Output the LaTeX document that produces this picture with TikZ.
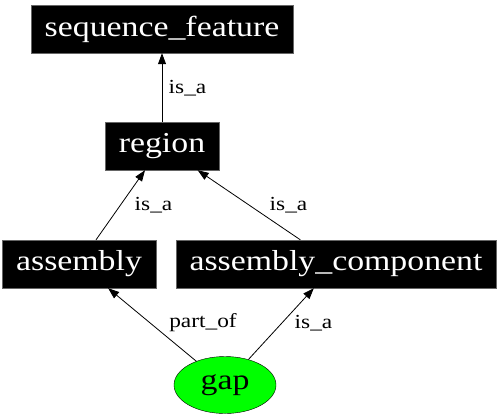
\documentclass[tikz,border=0pt]{standalone}
\usepackage{fontspec}
\setmainfont[FakeStretch=1.17]{Liberation Serif}
\usetikzlibrary{arrows.meta,shapes.geometric}

\begin{document}
\begin{tikzpicture}
[x=1bp,y=-1bp,every node/.style={font=\fontsize{29}{32}\selectfont},
term/.style={rectangle,fill=black,draw=black!60,text=white,minimum height=48bp,inner xsep=14bp},
lbl/.style={font=\fontsize{20}{22}\selectfont,inner sep=0pt},
rel/.style={-{Triangle[length=11bp,width=8bp]},line width=0.8bp}]
\useasboundingbox (0,0) rectangle (499,419);
\node[term] (seqf) at (162,29) {sequence\_feature};
\node[term] (region) at (162,146) {region};
\node[term] (assembly) at (79,264) {assembly};
\node[term,inner xsep=13.5bp] (asmcomp) at (336,264) {assembly\_component};
\node[ellipse,draw=black,fill=green,minimum width=102bp,minimum height=57bp,inner sep=0pt] (gap) at (225,385) {gap};

\foreach \from/\to in {region/seqf,assembly/region,asmcomp/region,gap/assembly,gap/asmcomp}
\draw[rel] (\from) -- (\to);

\node[lbl] (l1) at (187.5,88) {is\_a};
\node[lbl] (l2) at (153.5,205) {is\_a};
\node[lbl] (l3) at (288.5,205) {is\_a};
\node[lbl] (l4) at (203,323) {part\_of};
\node[lbl] (l5) at (313.5,323) {is\_a};
\end{tikzpicture}
\end{document}
